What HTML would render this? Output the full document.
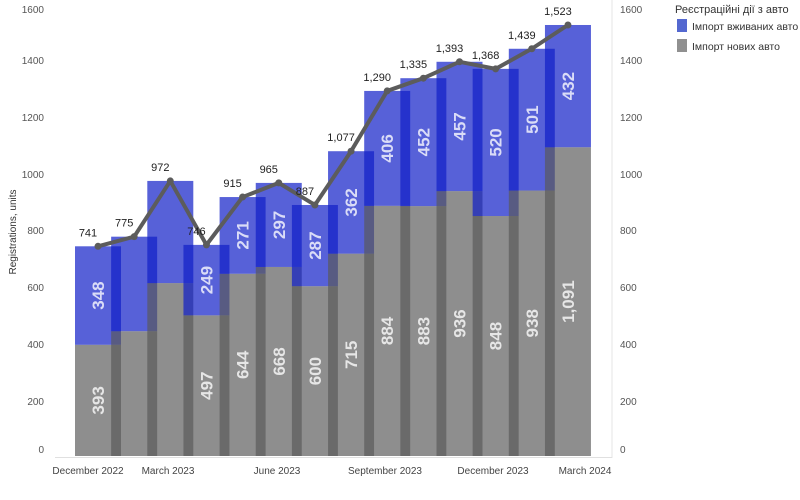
<!DOCTYPE html>
<html><head><meta charset="utf-8"><style>
html,body{margin:0;padding:0;background:#fff;}
svg{display:block;font-family:"Liberation Sans","DejaVu Sans",sans-serif;}
</style></head><body>
<svg width="800" height="500" viewBox="0 0 800 500" xmlns="http://www.w3.org/2000/svg">
<line x1="612" y1="0" x2="612" y2="458" stroke="#e4e4e4" stroke-width="1"/>
<line x1="55" y1="457.5" x2="612" y2="457.5" stroke="#e0e0e0" stroke-width="1"/>
<g font-size="10" fill="#555" text-anchor="end">
<text x="44" y="13">1600</text><text x="44" y="64">1400</text><text x="44" y="121">1200</text>
<text x="44" y="178">1000</text><text x="44" y="234">800</text><text x="44" y="291">600</text>
<text x="44" y="348">400</text><text x="44" y="405">200</text><text x="44" y="453">0</text>
</g>
<g font-size="10" fill="#555">
<text x="620" y="13">1600</text><text x="620" y="64">1400</text><text x="620" y="121">1200</text>
<text x="620" y="178">1000</text><text x="620" y="234">800</text><text x="620" y="291">600</text>
<text x="620" y="348">400</text><text x="620" y="405">200</text><text x="620" y="453">0</text>
</g>
<text transform="translate(16,232) rotate(-90)" font-size="10" fill="#333" text-anchor="middle">Registrations, units</text>
<g font-size="10" fill="#444" text-anchor="middle">
<text x="88" y="474">December 2022</text><text x="168" y="474">March 2023</text>
<text x="277" y="474">June 2023</text><text x="385" y="474">September 2023</text>
<text x="493" y="474">December 2023</text><text x="585" y="474">March 2024</text>
</g>
<g id="bars"></g>
<g id="lbl" font-size="17" font-weight="bold" fill="rgba(255,255,255,0.78)" text-anchor="middle"></g>
<polyline id="ln" fill="none" stroke="#5c5c5c" stroke-width="4" stroke-linejoin="round"/>
<g id="pts" fill="#5c5c5c"></g>
<g id="tot" font-size="11" fill="#222" text-anchor="middle"></g>
<text x="675" y="13" font-size="11" fill="#333">Реєстраційні дії з авто</text>
<rect x="677" y="19" width="10" height="13" fill="#5468d0"/>
<text x="692" y="30" font-size="10.5" fill="#333">Імпорт вживаних авто</text>
<rect x="677" y="39" width="10" height="13" fill="#909090"/>
<text x="692" y="50" font-size="10.5" fill="#333">Імпорт нових авто</text>
<script>
var g=[393,441,611,497,644,668,600,715,884,883,936,848,938,1091];
var t=[741,775,972,746,915,965,887,1077,1290,1335,1393,1368,1439,1523];
var bl={0:1,3:1,4:1,5:1,6:1,7:1,8:1,9:1,10:1,11:1,12:1,13:1};
var gl={0:1,3:1,4:1,5:1,6:1,7:1,8:1,9:1,10:1,11:1,12:1,13:1};
var k=0.283,b0=456,ns="http://www.w3.org/2000/svg";
function el(n,a,p,txt){var e=document.createElementNS(ns,n);for(var x in a)e.setAttribute(x,a[x]);if(txt)e.textContent=txt;document.getElementById(p).appendChild(e);return e;}
var pts=[];
for(var i=0;i<14;i++){
 var x=75+36.15*i,cx=x+23;
 var yg=b0-g[i]*k,yt=b0-t[i]*k;
 el("rect",{x:x,y:yg,width:46,height:b0-yg,fill:"rgba(89,89,89,0.68)"},"bars");
 el("rect",{x:x,y:yt,width:46,height:yg-yt,fill:"rgba(15,30,200,0.7)"},"bars");
 var fmt=function(v){return v>=1000?String(v).replace(/(\d)(\d{3})$/,"$1,$2"):String(v);};
 if(gl[i]){var my=(b0+yg)/2;el("text",{transform:"translate("+(cx+6)+","+my+") rotate(-90)"},"lbl",fmt(g[i]));}
 if(bl[i]){var my2=(yg+yt)/2;el("text",{transform:"translate("+(cx+6)+","+my2+") rotate(-90)"},"lbl",String(t[i]-g[i]));}
 pts.push(cx+","+yt);
 el("circle",{cx:cx,cy:yt,r:3.5},"pts");
 el("text",{x:cx-10,y:yt-10},"tot",fmt(t[i]));
}
document.getElementById("ln").setAttribute("points",pts.join(" "));
</script>
</svg>
</body></html>
